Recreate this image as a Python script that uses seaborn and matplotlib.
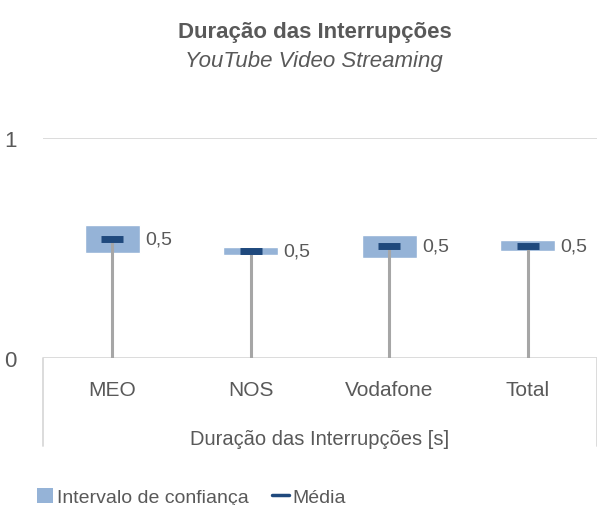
import numpy as np
import pandas as pd
import seaborn as sns
import matplotlib.pyplot as plt
from matplotlib.patches import Patch
from matplotlib.lines import Line2D

# =====================================#
# DATA
# =====================================#
operadores = ["MEO", "NOS", "Vodafone", "Total"]
ic_inferior = [0.479, 0.470, 0.456, 0.485]
ic_superior = [0.605, 0.505, 0.558, 0.535]
media = [0.541, 0.485, 0.508, 0.508]
rotulos = ["0,5", "0,5", "0,5", "0,5"]

# =====================================#
# STYLE
# =====================================#
sns.set_theme(style="white")
plt.rcParams["font.family"] = ["Liberation Sans", "DejaVu Sans"]

cor_texto = "#595959"
cor_ic = "#95b3d7"
cor_media = "#1f497d"
cor_haste = "#a6a6a6"
cor_grelha = "#d9d9d9"

df = pd.DataFrame({
	"operador": operadores,
	"altura": np.array(ic_superior) - np.array(ic_inferior),
	"base": ic_inferior,
	"media": media,
})

fig = plt.figure(figsize=(5.97, 5.06), dpi=100)
ax = fig.add_axes([43 / 597, 147 / 506, 554 / 597, 220 / 506])

# intervalo de confiança
sns.barplot(
	data=df, x="operador", y="altura", bottom=df["base"],
	color=cor_ic, saturation=1, width=0.4, ax=ax, zorder=2,
)

# hastes cinzentas do zero até à média (por cima da caixa)
x = np.arange(len(operadores))
ax.vlines(x, 0, df["media"], color=cor_haste, linewidth=2.2, zorder=3)

# média
ax.hlines(df["media"], x - 0.08, x + 0.08, color=cor_media, linewidth=5, zorder=4)

for i, r in enumerate(rotulos):
	ax.text(i + 0.235, media[i], r, ha="left", va="center",
			fontsize=14, color=cor_texto)

ax.set_xlim(-0.5, 3.5)
ax.set_ylim(0, 1)
ax.set_yticks([0, 1])
ax.set_yticklabels(["0", "1"])
ax.grid(axis="y", color=cor_grelha, linewidth=1.3)
ax.set_axisbelow(True)
for s in ["top", "right", "left", "bottom"]:
	ax.spines[s].set_visible(False)
ax.tick_params(axis="both", length=0, labelcolor=cor_texto)
ax.tick_params(axis="y", pad=19, labelsize=16)
ax.tick_params(axis="x", pad=16, labelsize=15)
ax.set_xlabel("Duração das Interrupções [s]", fontsize=14.5, color=cor_texto)
ax.xaxis.set_label_coords(0.5, -86 / 220)
ax.xaxis.label.set_va("baseline")
ax.set_ylabel("")

# linhas verticais da moldura do eixo de categorias
for xa in [0, 1]:
	ax.plot([xa, xa], [0, -0.4], transform=ax.transAxes, color=cor_grelha,
			linewidth=1.3, clip_on=False)

fig.text(0.527, 1 - 38 / 506, "Duração das Interrupções", ha="center", va="baseline",
		 fontsize=16, fontweight="bold", color=cor_texto)
fig.text(0.525, 1 - 67 / 506, "YouTube Video Streaming", ha="center", va="baseline",
		 fontsize=16, fontstyle="italic", color=cor_texto)

handles = [
	Patch(facecolor=cor_ic, edgecolor="none"),
	Line2D([0], [0], color=cor_media, linewidth=2.5),
]
fig.legend(handles, ["Intervalo de confiança", "Média"], loc="center left",
		   bbox_to_anchor=(0.032, 0.016), ncol=2, frameon=False, fontsize=14,
		   labelcolor=cor_texto, handlelength=0.85, handleheight=0.85,
		   handletextpad=0.2, columnspacing=1.2)

fig.savefig("out.png", dpi=100)
